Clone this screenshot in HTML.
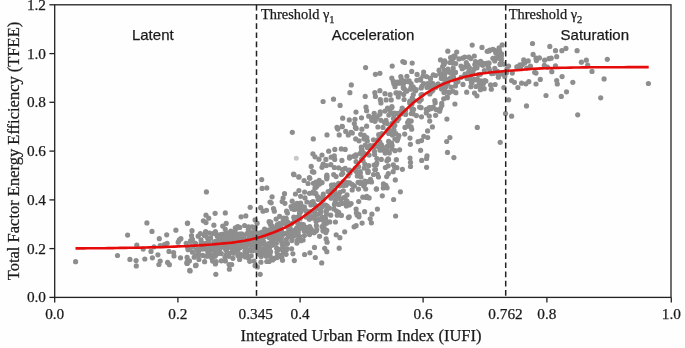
<!DOCTYPE html>
<html><head><meta charset="utf-8"><title>TFEE vs IUFI</title>
<style>
html,body{margin:0;padding:0;background:#fefefe;}
svg{display:block}
text{stroke:#1a1a1a;stroke-width:0.25px}
.tk{font:15.3px "Liberation Serif",serif;fill:#1a1a1a}
.ax{font:16.5px "Liberation Serif",serif;fill:#1a1a1a}
.th{font:14.4px "Liberation Serif",serif;fill:#1a1a1a}
.rg{font:15px "Liberation Sans",sans-serif;fill:#1a1a1a}
</style></head><body>
<svg width="685" height="348" viewBox="0 0 685 348">
<rect width="685" height="348" fill="#fefefe"/>
<g fill="#8e8e8e"><circle cx="198.3" cy="251.3" r="2.6"/><circle cx="201.0" cy="239.8" r="2.6"/><circle cx="192.4" cy="239.3" r="2.6"/><circle cx="187.1" cy="261.8" r="2.6"/><circle cx="201.3" cy="242.3" r="2.6"/><circle cx="192.5" cy="252.2" r="2.6"/><circle cx="191.6" cy="240.0" r="2.6"/><circle cx="196.1" cy="255.2" r="2.6"/><circle cx="204.9" cy="243.6" r="2.6"/><circle cx="198.2" cy="236.2" r="2.6"/><circle cx="190.9" cy="246.6" r="2.6"/><circle cx="198.0" cy="251.0" r="2.6"/><circle cx="187.6" cy="247.2" r="2.6"/><circle cx="195.4" cy="243.5" r="2.6"/><circle cx="198.3" cy="249.5" r="2.6"/><circle cx="195.9" cy="244.0" r="2.6"/><circle cx="190.5" cy="241.2" r="2.6"/><circle cx="190.6" cy="241.2" r="2.6"/><circle cx="187.1" cy="257.4" r="2.6"/><circle cx="189.8" cy="247.8" r="2.6"/><circle cx="202.8" cy="248.7" r="2.6"/><circle cx="202.2" cy="248.9" r="2.6"/><circle cx="200.4" cy="233.6" r="2.6"/><circle cx="196.7" cy="249.6" r="2.6"/><circle cx="202.7" cy="255.4" r="2.6"/><circle cx="188.1" cy="249.7" r="2.6"/><circle cx="192.8" cy="247.0" r="2.6"/><circle cx="201.7" cy="247.6" r="2.6"/><circle cx="204.6" cy="261.7" r="2.6"/><circle cx="197.9" cy="250.4" r="2.6"/><circle cx="199.2" cy="249.6" r="2.6"/><circle cx="194.9" cy="243.1" r="2.6"/><circle cx="194.2" cy="257.2" r="2.6"/><circle cx="204.4" cy="235.4" r="2.6"/><circle cx="199.1" cy="254.5" r="2.6"/><circle cx="202.7" cy="243.7" r="2.6"/><circle cx="189.4" cy="260.9" r="2.6"/><circle cx="204.0" cy="244.9" r="2.6"/><circle cx="214.7" cy="244.8" r="2.6"/><circle cx="208.3" cy="243.7" r="2.6"/><circle cx="214.4" cy="250.6" r="2.6"/><circle cx="220.0" cy="244.9" r="2.6"/><circle cx="214.7" cy="247.1" r="2.6"/><circle cx="212.0" cy="258.5" r="2.6"/><circle cx="205.6" cy="247.7" r="2.6"/><circle cx="213.0" cy="244.1" r="2.6"/><circle cx="210.5" cy="247.5" r="2.6"/><circle cx="205.4" cy="235.7" r="2.6"/><circle cx="205.5" cy="231.9" r="2.6"/><circle cx="221.4" cy="243.8" r="2.6"/><circle cx="212.3" cy="249.0" r="2.6"/><circle cx="219.8" cy="238.9" r="2.6"/><circle cx="215.0" cy="249.1" r="2.6"/><circle cx="211.0" cy="245.8" r="2.6"/><circle cx="218.0" cy="253.6" r="2.6"/><circle cx="207.6" cy="238.0" r="2.6"/><circle cx="205.1" cy="248.3" r="2.6"/><circle cx="218.8" cy="249.4" r="2.6"/><circle cx="212.1" cy="256.7" r="2.6"/><circle cx="205.2" cy="248.8" r="2.6"/><circle cx="218.5" cy="245.8" r="2.6"/><circle cx="217.3" cy="236.3" r="2.6"/><circle cx="208.4" cy="255.8" r="2.6"/><circle cx="210.9" cy="254.7" r="2.6"/><circle cx="214.7" cy="254.6" r="2.6"/><circle cx="209.6" cy="233.0" r="2.6"/><circle cx="212.6" cy="261.1" r="2.6"/><circle cx="213.8" cy="244.7" r="2.6"/><circle cx="220.2" cy="237.5" r="2.6"/><circle cx="214.9" cy="242.1" r="2.6"/><circle cx="219.9" cy="239.3" r="2.6"/><circle cx="220.7" cy="234.6" r="2.6"/><circle cx="212.3" cy="245.9" r="2.6"/><circle cx="221.2" cy="246.8" r="2.6"/><circle cx="218.7" cy="243.8" r="2.6"/><circle cx="217.2" cy="247.1" r="2.6"/><circle cx="210.7" cy="244.7" r="2.6"/><circle cx="208.4" cy="240.0" r="2.6"/><circle cx="208.6" cy="241.3" r="2.6"/><circle cx="219.3" cy="250.1" r="2.6"/><circle cx="213.1" cy="233.5" r="2.6"/><circle cx="216.2" cy="241.1" r="2.6"/><circle cx="221.3" cy="253.6" r="2.6"/><circle cx="215.7" cy="247.8" r="2.6"/><circle cx="208.1" cy="252.0" r="2.6"/><circle cx="212.0" cy="246.1" r="2.6"/><circle cx="218.9" cy="235.3" r="2.6"/><circle cx="206.9" cy="243.0" r="2.6"/><circle cx="218.6" cy="246.6" r="2.6"/><circle cx="213.9" cy="242.5" r="2.6"/><circle cx="205.8" cy="245.0" r="2.6"/><circle cx="205.3" cy="248.1" r="2.6"/><circle cx="209.2" cy="254.1" r="2.6"/><circle cx="214.6" cy="241.9" r="2.6"/><circle cx="215.0" cy="256.2" r="2.6"/><circle cx="216.5" cy="245.7" r="2.6"/><circle cx="210.3" cy="255.0" r="2.6"/><circle cx="214.2" cy="256.0" r="2.6"/><circle cx="216.2" cy="261.5" r="2.6"/><circle cx="208.3" cy="255.9" r="2.6"/><circle cx="205.7" cy="256.2" r="2.6"/><circle cx="221.3" cy="260.8" r="2.6"/><circle cx="205.9" cy="231.9" r="2.6"/><circle cx="210.4" cy="237.9" r="2.6"/><circle cx="215.7" cy="255.1" r="2.6"/><circle cx="210.3" cy="250.0" r="2.6"/><circle cx="207.2" cy="245.5" r="2.6"/><circle cx="220.0" cy="238.6" r="2.6"/><circle cx="214.8" cy="245.6" r="2.6"/><circle cx="215.4" cy="231.6" r="2.6"/><circle cx="216.2" cy="246.5" r="2.6"/><circle cx="219.0" cy="237.5" r="2.6"/><circle cx="210.6" cy="238.1" r="2.6"/><circle cx="219.7" cy="248.7" r="2.6"/><circle cx="207.7" cy="251.1" r="2.6"/><circle cx="216.1" cy="233.9" r="2.6"/><circle cx="255.1" cy="240.5" r="2.6"/><circle cx="230.8" cy="231.2" r="2.6"/><circle cx="245.0" cy="251.0" r="2.6"/><circle cx="235.3" cy="246.0" r="2.6"/><circle cx="245.2" cy="255.1" r="2.6"/><circle cx="235.2" cy="238.3" r="2.6"/><circle cx="229.5" cy="240.6" r="2.6"/><circle cx="224.9" cy="246.8" r="2.6"/><circle cx="242.3" cy="234.7" r="2.6"/><circle cx="224.7" cy="247.9" r="2.6"/><circle cx="226.6" cy="245.6" r="2.6"/><circle cx="226.6" cy="254.2" r="2.6"/><circle cx="253.7" cy="243.8" r="2.6"/><circle cx="232.7" cy="250.6" r="2.6"/><circle cx="243.7" cy="254.8" r="2.6"/><circle cx="237.2" cy="243.5" r="2.6"/><circle cx="235.1" cy="231.9" r="2.6"/><circle cx="225.4" cy="260.9" r="2.6"/><circle cx="249.2" cy="250.5" r="2.6"/><circle cx="245.6" cy="246.0" r="2.6"/><circle cx="240.2" cy="245.3" r="2.6"/><circle cx="228.7" cy="243.2" r="2.6"/><circle cx="240.8" cy="256.3" r="2.6"/><circle cx="253.4" cy="241.7" r="2.6"/><circle cx="228.4" cy="240.4" r="2.6"/><circle cx="244.6" cy="225.5" r="2.6"/><circle cx="256.9" cy="250.5" r="2.6"/><circle cx="251.5" cy="248.9" r="2.6"/><circle cx="235.8" cy="247.3" r="2.6"/><circle cx="228.5" cy="243.9" r="2.6"/><circle cx="248.5" cy="258.0" r="2.6"/><circle cx="237.6" cy="244.3" r="2.6"/><circle cx="236.7" cy="238.6" r="2.6"/><circle cx="251.6" cy="247.3" r="2.6"/><circle cx="235.6" cy="241.7" r="2.6"/><circle cx="247.3" cy="242.5" r="2.6"/><circle cx="251.1" cy="238.4" r="2.6"/><circle cx="235.6" cy="242.9" r="2.6"/><circle cx="248.6" cy="226.9" r="2.6"/><circle cx="227.2" cy="237.6" r="2.6"/><circle cx="250.9" cy="234.7" r="2.6"/><circle cx="226.3" cy="232.5" r="2.6"/><circle cx="256.6" cy="237.8" r="2.6"/><circle cx="242.1" cy="246.1" r="2.6"/><circle cx="248.3" cy="233.0" r="2.6"/><circle cx="254.0" cy="239.0" r="2.6"/><circle cx="224.4" cy="235.9" r="2.6"/><circle cx="223.1" cy="234.0" r="2.6"/><circle cx="232.9" cy="258.3" r="2.6"/><circle cx="237.9" cy="255.6" r="2.6"/><circle cx="256.8" cy="243.5" r="2.6"/><circle cx="254.1" cy="261.1" r="2.6"/><circle cx="235.8" cy="239.2" r="2.6"/><circle cx="226.4" cy="239.6" r="2.6"/><circle cx="239.6" cy="259.4" r="2.6"/><circle cx="228.2" cy="236.6" r="2.6"/><circle cx="238.9" cy="239.6" r="2.6"/><circle cx="245.4" cy="241.5" r="2.6"/><circle cx="240.4" cy="247.4" r="2.6"/><circle cx="240.1" cy="244.1" r="2.6"/><circle cx="240.8" cy="243.5" r="2.6"/><circle cx="249.7" cy="261.3" r="2.6"/><circle cx="228.3" cy="246.5" r="2.6"/><circle cx="226.0" cy="250.1" r="2.6"/><circle cx="255.0" cy="227.3" r="2.6"/><circle cx="255.9" cy="248.2" r="2.6"/><circle cx="239.7" cy="227.4" r="2.6"/><circle cx="254.0" cy="234.8" r="2.6"/><circle cx="233.0" cy="247.6" r="2.6"/><circle cx="230.3" cy="234.1" r="2.6"/><circle cx="252.8" cy="240.1" r="2.6"/><circle cx="251.0" cy="243.5" r="2.6"/><circle cx="246.8" cy="254.4" r="2.6"/><circle cx="245.9" cy="254.3" r="2.6"/><circle cx="232.6" cy="250.7" r="2.6"/><circle cx="248.5" cy="239.0" r="2.6"/><circle cx="254.2" cy="228.6" r="2.6"/><circle cx="233.5" cy="253.3" r="2.6"/><circle cx="227.4" cy="248.2" r="2.6"/><circle cx="225.2" cy="229.0" r="2.6"/><circle cx="242.1" cy="245.9" r="2.6"/><circle cx="231.9" cy="241.8" r="2.6"/><circle cx="246.6" cy="245.4" r="2.6"/><circle cx="255.3" cy="232.0" r="2.6"/><circle cx="236.5" cy="249.6" r="2.6"/><circle cx="251.2" cy="255.8" r="2.6"/><circle cx="245.4" cy="257.0" r="2.6"/><circle cx="241.3" cy="241.3" r="2.6"/><circle cx="224.3" cy="244.6" r="2.6"/><circle cx="255.5" cy="234.8" r="2.6"/><circle cx="236.3" cy="228.3" r="2.6"/><circle cx="240.3" cy="254.3" r="2.6"/><circle cx="225.0" cy="257.0" r="2.6"/><circle cx="241.5" cy="233.8" r="2.6"/><circle cx="223.4" cy="241.9" r="2.6"/><circle cx="244.1" cy="238.4" r="2.6"/><circle cx="224.6" cy="243.3" r="2.6"/><circle cx="229.8" cy="232.9" r="2.6"/><circle cx="252.8" cy="250.8" r="2.6"/><circle cx="237.9" cy="244.9" r="2.6"/><circle cx="246.8" cy="233.5" r="2.6"/><circle cx="250.2" cy="237.3" r="2.6"/><circle cx="243.7" cy="236.1" r="2.6"/><circle cx="245.7" cy="241.2" r="2.6"/><circle cx="236.2" cy="250.9" r="2.6"/><circle cx="235.9" cy="251.1" r="2.6"/><circle cx="235.3" cy="234.3" r="2.6"/><circle cx="248.4" cy="243.4" r="2.6"/><circle cx="233.8" cy="236.3" r="2.6"/><circle cx="235.3" cy="227.9" r="2.6"/><circle cx="249.5" cy="231.9" r="2.6"/><circle cx="247.0" cy="242.6" r="2.6"/><circle cx="252.1" cy="226.8" r="2.6"/><circle cx="241.5" cy="236.8" r="2.6"/><circle cx="245.7" cy="247.3" r="2.6"/><circle cx="236.7" cy="237.8" r="2.6"/><circle cx="232.2" cy="238.0" r="2.6"/><circle cx="237.1" cy="235.2" r="2.6"/><circle cx="237.7" cy="226.5" r="2.6"/><circle cx="242.3" cy="240.9" r="2.6"/><circle cx="253.1" cy="241.5" r="2.6"/><circle cx="231.3" cy="246.1" r="2.6"/><circle cx="239.3" cy="234.2" r="2.6"/><circle cx="224.6" cy="236.2" r="2.6"/><circle cx="228.9" cy="253.4" r="2.6"/><circle cx="251.0" cy="232.7" r="2.6"/><circle cx="238.6" cy="241.2" r="2.6"/><circle cx="238.0" cy="250.1" r="2.6"/><circle cx="229.0" cy="256.3" r="2.6"/><circle cx="246.7" cy="240.4" r="2.6"/><circle cx="224.0" cy="236.6" r="2.6"/><circle cx="250.6" cy="250.6" r="2.6"/><circle cx="224.2" cy="237.7" r="2.6"/><circle cx="230.6" cy="241.8" r="2.6"/><circle cx="235.2" cy="244.3" r="2.6"/><circle cx="231.0" cy="234.5" r="2.6"/><circle cx="240.4" cy="244.1" r="2.6"/><circle cx="229.1" cy="264.6" r="2.6"/><circle cx="232.1" cy="237.9" r="2.6"/><circle cx="231.0" cy="239.6" r="2.6"/><circle cx="236.8" cy="244.4" r="2.6"/><circle cx="246.8" cy="249.3" r="2.6"/><circle cx="226.8" cy="248.6" r="2.6"/><circle cx="248.9" cy="235.5" r="2.6"/><circle cx="254.3" cy="239.2" r="2.6"/><circle cx="243.7" cy="246.2" r="2.6"/><circle cx="248.3" cy="229.3" r="2.6"/><circle cx="231.0" cy="232.3" r="2.6"/><circle cx="239.1" cy="241.7" r="2.6"/><circle cx="237.4" cy="245.8" r="2.6"/><circle cx="226.8" cy="244.6" r="2.6"/><circle cx="228.1" cy="242.3" r="2.6"/><circle cx="255.7" cy="238.5" r="2.6"/><circle cx="228.4" cy="246.9" r="2.6"/><circle cx="238.6" cy="247.1" r="2.6"/><circle cx="276.7" cy="233.9" r="2.6"/><circle cx="291.1" cy="206.6" r="2.6"/><circle cx="274.5" cy="241.1" r="2.6"/><circle cx="263.9" cy="242.3" r="2.6"/><circle cx="285.7" cy="233.4" r="2.6"/><circle cx="282.8" cy="245.7" r="2.6"/><circle cx="298.0" cy="206.3" r="2.6"/><circle cx="270.6" cy="245.8" r="2.6"/><circle cx="299.6" cy="228.5" r="2.6"/><circle cx="286.2" cy="239.6" r="2.6"/><circle cx="283.1" cy="220.9" r="2.6"/><circle cx="257.8" cy="240.1" r="2.6"/><circle cx="275.1" cy="237.8" r="2.6"/><circle cx="271.5" cy="243.2" r="2.6"/><circle cx="264.9" cy="252.5" r="2.6"/><circle cx="296.9" cy="234.8" r="2.6"/><circle cx="286.3" cy="250.0" r="2.6"/><circle cx="257.1" cy="223.2" r="2.6"/><circle cx="263.1" cy="235.1" r="2.6"/><circle cx="266.1" cy="254.4" r="2.6"/><circle cx="268.5" cy="243.8" r="2.6"/><circle cx="292.0" cy="238.2" r="2.6"/><circle cx="280.7" cy="236.4" r="2.6"/><circle cx="268.8" cy="249.1" r="2.6"/><circle cx="270.5" cy="251.7" r="2.6"/><circle cx="294.1" cy="230.3" r="2.6"/><circle cx="284.3" cy="223.3" r="2.6"/><circle cx="288.2" cy="236.8" r="2.6"/><circle cx="258.1" cy="253.6" r="2.6"/><circle cx="265.8" cy="249.9" r="2.6"/><circle cx="277.2" cy="257.6" r="2.6"/><circle cx="269.4" cy="232.7" r="2.6"/><circle cx="266.4" cy="256.3" r="2.6"/><circle cx="259.7" cy="249.5" r="2.6"/><circle cx="288.8" cy="230.1" r="2.6"/><circle cx="281.6" cy="231.4" r="2.6"/><circle cx="262.4" cy="253.4" r="2.6"/><circle cx="291.6" cy="248.8" r="2.6"/><circle cx="294.2" cy="209.5" r="2.6"/><circle cx="279.4" cy="223.7" r="2.6"/><circle cx="260.1" cy="248.9" r="2.6"/><circle cx="277.2" cy="228.3" r="2.6"/><circle cx="270.8" cy="242.3" r="2.6"/><circle cx="263.6" cy="235.9" r="2.6"/><circle cx="298.0" cy="229.8" r="2.6"/><circle cx="270.9" cy="233.3" r="2.6"/><circle cx="282.3" cy="235.2" r="2.6"/><circle cx="265.5" cy="235.5" r="2.6"/><circle cx="264.1" cy="236.5" r="2.6"/><circle cx="280.4" cy="233.6" r="2.6"/><circle cx="273.0" cy="244.9" r="2.6"/><circle cx="281.0" cy="240.8" r="2.6"/><circle cx="296.7" cy="229.1" r="2.6"/><circle cx="296.1" cy="232.5" r="2.6"/><circle cx="265.3" cy="252.6" r="2.6"/><circle cx="260.0" cy="238.0" r="2.6"/><circle cx="279.5" cy="231.0" r="2.6"/><circle cx="272.2" cy="226.1" r="2.6"/><circle cx="262.0" cy="232.2" r="2.6"/><circle cx="290.6" cy="235.0" r="2.6"/><circle cx="276.6" cy="235.1" r="2.6"/><circle cx="264.1" cy="236.6" r="2.6"/><circle cx="259.3" cy="248.8" r="2.6"/><circle cx="277.0" cy="238.5" r="2.6"/><circle cx="269.1" cy="261.5" r="2.6"/><circle cx="289.5" cy="229.2" r="2.6"/><circle cx="289.5" cy="234.2" r="2.6"/><circle cx="296.5" cy="230.3" r="2.6"/><circle cx="263.0" cy="249.1" r="2.6"/><circle cx="297.2" cy="240.4" r="2.6"/><circle cx="277.4" cy="255.8" r="2.6"/><circle cx="286.9" cy="226.7" r="2.6"/><circle cx="261.4" cy="241.3" r="2.6"/><circle cx="297.3" cy="228.5" r="2.6"/><circle cx="283.3" cy="252.7" r="2.6"/><circle cx="276.7" cy="248.2" r="2.6"/><circle cx="286.2" cy="218.4" r="2.6"/><circle cx="274.7" cy="240.6" r="2.6"/><circle cx="299.7" cy="209.4" r="2.6"/><circle cx="297.5" cy="220.0" r="2.6"/><circle cx="297.4" cy="209.0" r="2.6"/><circle cx="276.3" cy="243.3" r="2.6"/><circle cx="263.0" cy="240.6" r="2.6"/><circle cx="281.3" cy="238.0" r="2.6"/><circle cx="266.9" cy="245.3" r="2.6"/><circle cx="270.1" cy="223.4" r="2.6"/><circle cx="270.9" cy="225.4" r="2.6"/><circle cx="261.6" cy="243.6" r="2.6"/><circle cx="269.7" cy="232.7" r="2.6"/><circle cx="274.4" cy="242.3" r="2.6"/><circle cx="272.0" cy="239.1" r="2.6"/><circle cx="287.4" cy="213.1" r="2.6"/><circle cx="265.7" cy="230.7" r="2.6"/><circle cx="299.6" cy="212.8" r="2.6"/><circle cx="297.9" cy="223.6" r="2.6"/><circle cx="282.9" cy="247.9" r="2.6"/><circle cx="271.1" cy="230.1" r="2.6"/><circle cx="280.7" cy="225.8" r="2.6"/><circle cx="271.3" cy="233.6" r="2.6"/><circle cx="296.9" cy="243.1" r="2.6"/><circle cx="287.5" cy="243.5" r="2.6"/><circle cx="295.6" cy="233.2" r="2.6"/><circle cx="270.7" cy="222.0" r="2.6"/><circle cx="258.1" cy="245.8" r="2.6"/><circle cx="261.3" cy="252.0" r="2.6"/><circle cx="271.4" cy="244.4" r="2.6"/><circle cx="286.1" cy="254.3" r="2.6"/><circle cx="261.3" cy="249.6" r="2.6"/><circle cx="297.9" cy="234.5" r="2.6"/><circle cx="279.3" cy="234.8" r="2.6"/><circle cx="259.9" cy="254.7" r="2.6"/><circle cx="291.9" cy="240.6" r="2.6"/><circle cx="264.6" cy="229.1" r="2.6"/><circle cx="299.0" cy="237.3" r="2.6"/><circle cx="278.7" cy="255.3" r="2.6"/><circle cx="265.6" cy="236.0" r="2.6"/><circle cx="294.4" cy="219.7" r="2.6"/><circle cx="269.1" cy="237.5" r="2.6"/><circle cx="261.2" cy="256.5" r="2.6"/><circle cx="259.3" cy="244.5" r="2.6"/><circle cx="275.7" cy="232.5" r="2.6"/><circle cx="262.4" cy="239.7" r="2.6"/><circle cx="292.9" cy="253.8" r="2.6"/><circle cx="281.8" cy="257.2" r="2.6"/><circle cx="257.6" cy="244.3" r="2.6"/><circle cx="277.3" cy="224.5" r="2.6"/><circle cx="259.4" cy="233.2" r="2.6"/><circle cx="259.4" cy="237.9" r="2.6"/><circle cx="280.2" cy="236.6" r="2.6"/><circle cx="269.7" cy="256.3" r="2.6"/><circle cx="296.0" cy="234.4" r="2.6"/><circle cx="277.0" cy="252.1" r="2.6"/><circle cx="269.4" cy="249.2" r="2.6"/><circle cx="282.9" cy="249.0" r="2.6"/><circle cx="291.7" cy="223.6" r="2.6"/><circle cx="272.1" cy="235.3" r="2.6"/><circle cx="283.8" cy="218.0" r="2.6"/><circle cx="299.2" cy="217.7" r="2.6"/><circle cx="264.7" cy="235.2" r="2.6"/><circle cx="294.4" cy="235.5" r="2.6"/><circle cx="265.6" cy="255.5" r="2.6"/><circle cx="262.4" cy="250.6" r="2.6"/><circle cx="296.7" cy="227.9" r="2.6"/><circle cx="268.3" cy="230.2" r="2.6"/><circle cx="282.1" cy="243.8" r="2.6"/><circle cx="265.8" cy="245.2" r="2.6"/><circle cx="274.2" cy="258.4" r="2.6"/><circle cx="287.9" cy="232.8" r="2.6"/><circle cx="273.9" cy="239.6" r="2.6"/><circle cx="285.9" cy="241.2" r="2.6"/><circle cx="299.6" cy="213.8" r="2.6"/><circle cx="298.2" cy="232.2" r="2.6"/><circle cx="266.2" cy="235.4" r="2.6"/><circle cx="282.5" cy="260.3" r="2.6"/><circle cx="291.9" cy="208.7" r="2.6"/><circle cx="262.9" cy="243.8" r="2.6"/><circle cx="275.4" cy="228.1" r="2.6"/><circle cx="279.0" cy="249.4" r="2.6"/><circle cx="290.0" cy="224.2" r="2.6"/><circle cx="299.7" cy="236.5" r="2.6"/><circle cx="274.8" cy="231.3" r="2.6"/><circle cx="284.5" cy="243.9" r="2.6"/><circle cx="294.5" cy="205.0" r="2.6"/><circle cx="269.2" cy="255.0" r="2.6"/><circle cx="286.9" cy="248.6" r="2.6"/><circle cx="297.8" cy="217.0" r="2.6"/><circle cx="283.0" cy="248.6" r="2.6"/><circle cx="280.6" cy="255.7" r="2.6"/><circle cx="270.1" cy="256.1" r="2.6"/><circle cx="297.3" cy="222.1" r="2.6"/><circle cx="257.3" cy="266.9" r="2.6"/><circle cx="262.1" cy="244.1" r="2.6"/><circle cx="269.6" cy="243.3" r="2.6"/><circle cx="295.5" cy="217.7" r="2.6"/><circle cx="276.3" cy="240.2" r="2.6"/><circle cx="269.8" cy="253.3" r="2.6"/><circle cx="293.8" cy="217.2" r="2.6"/><circle cx="290.1" cy="227.8" r="2.6"/><circle cx="290.8" cy="232.7" r="2.6"/><circle cx="287.8" cy="222.2" r="2.6"/><circle cx="316.2" cy="231.0" r="2.6"/><circle cx="346.6" cy="201.3" r="2.6"/><circle cx="318.1" cy="208.4" r="2.6"/><circle cx="325.6" cy="205.2" r="2.6"/><circle cx="314.5" cy="247.4" r="2.6"/><circle cx="344.0" cy="197.5" r="2.6"/><circle cx="322.0" cy="198.3" r="2.6"/><circle cx="329.4" cy="208.1" r="2.6"/><circle cx="330.7" cy="215.2" r="2.6"/><circle cx="323.5" cy="219.7" r="2.6"/><circle cx="348.2" cy="175.9" r="2.6"/><circle cx="314.9" cy="192.9" r="2.6"/><circle cx="304.4" cy="207.1" r="2.6"/><circle cx="348.3" cy="170.3" r="2.6"/><circle cx="306.4" cy="210.8" r="2.6"/><circle cx="320.4" cy="219.3" r="2.6"/><circle cx="340.0" cy="192.3" r="2.6"/><circle cx="324.6" cy="229.1" r="2.6"/><circle cx="325.5" cy="218.8" r="2.6"/><circle cx="313.1" cy="201.7" r="2.6"/><circle cx="346.4" cy="206.0" r="2.6"/><circle cx="304.2" cy="231.1" r="2.6"/><circle cx="344.7" cy="203.1" r="2.6"/><circle cx="300.0" cy="205.3" r="2.6"/><circle cx="338.2" cy="204.1" r="2.6"/><circle cx="345.9" cy="182.0" r="2.6"/><circle cx="343.1" cy="181.9" r="2.6"/><circle cx="305.0" cy="197.9" r="2.6"/><circle cx="319.2" cy="180.3" r="2.6"/><circle cx="326.1" cy="211.0" r="2.6"/><circle cx="350.0" cy="172.9" r="2.6"/><circle cx="316.4" cy="225.7" r="2.6"/><circle cx="309.3" cy="219.2" r="2.6"/><circle cx="329.9" cy="191.3" r="2.6"/><circle cx="304.6" cy="192.1" r="2.6"/><circle cx="336.8" cy="194.5" r="2.6"/><circle cx="302.3" cy="206.6" r="2.6"/><circle cx="306.2" cy="227.4" r="2.6"/><circle cx="347.0" cy="194.9" r="2.6"/><circle cx="327.3" cy="206.1" r="2.6"/><circle cx="336.8" cy="185.4" r="2.6"/><circle cx="335.4" cy="222.0" r="2.6"/><circle cx="338.7" cy="212.3" r="2.6"/><circle cx="326.1" cy="238.9" r="2.6"/><circle cx="334.4" cy="204.6" r="2.6"/><circle cx="323.3" cy="194.1" r="2.6"/><circle cx="314.1" cy="232.7" r="2.6"/><circle cx="322.0" cy="204.3" r="2.6"/><circle cx="342.4" cy="184.3" r="2.6"/><circle cx="345.1" cy="168.4" r="2.6"/><circle cx="322.2" cy="206.8" r="2.6"/><circle cx="306.9" cy="202.0" r="2.6"/><circle cx="339.8" cy="185.8" r="2.6"/><circle cx="335.4" cy="196.5" r="2.6"/><circle cx="334.1" cy="193.9" r="2.6"/><circle cx="339.5" cy="198.3" r="2.6"/><circle cx="316.1" cy="221.4" r="2.6"/><circle cx="333.1" cy="194.3" r="2.6"/><circle cx="322.3" cy="217.2" r="2.6"/><circle cx="323.2" cy="165.1" r="2.6"/><circle cx="304.4" cy="235.5" r="2.6"/><circle cx="346.1" cy="185.2" r="2.6"/><circle cx="338.6" cy="183.4" r="2.6"/><circle cx="319.0" cy="159.2" r="2.6"/><circle cx="326.5" cy="223.2" r="2.6"/><circle cx="333.9" cy="208.9" r="2.6"/><circle cx="317.3" cy="185.5" r="2.6"/><circle cx="328.1" cy="191.6" r="2.6"/><circle cx="319.3" cy="183.9" r="2.6"/><circle cx="344.7" cy="231.8" r="2.6"/><circle cx="331.0" cy="198.2" r="2.6"/><circle cx="306.1" cy="216.9" r="2.6"/><circle cx="315.9" cy="193.7" r="2.6"/><circle cx="349.3" cy="205.0" r="2.6"/><circle cx="307.0" cy="212.4" r="2.6"/><circle cx="314.4" cy="211.9" r="2.6"/><circle cx="306.7" cy="215.8" r="2.6"/><circle cx="349.6" cy="170.1" r="2.6"/><circle cx="349.2" cy="216.8" r="2.6"/><circle cx="311.1" cy="229.1" r="2.6"/><circle cx="315.1" cy="215.3" r="2.6"/><circle cx="334.8" cy="190.4" r="2.6"/><circle cx="311.7" cy="216.7" r="2.6"/><circle cx="323.2" cy="230.9" r="2.6"/><circle cx="337.3" cy="215.2" r="2.6"/><circle cx="323.1" cy="230.5" r="2.6"/><circle cx="340.9" cy="199.6" r="2.6"/><circle cx="309.4" cy="177.5" r="2.6"/><circle cx="341.5" cy="174.5" r="2.6"/><circle cx="325.9" cy="232.6" r="2.6"/><circle cx="307.8" cy="231.8" r="2.6"/><circle cx="334.1" cy="184.9" r="2.6"/><circle cx="310.9" cy="205.0" r="2.6"/><circle cx="319.6" cy="236.3" r="2.6"/><circle cx="343.3" cy="190.8" r="2.6"/><circle cx="322.1" cy="182.6" r="2.6"/><circle cx="309.7" cy="226.5" r="2.6"/><circle cx="349.4" cy="204.2" r="2.6"/><circle cx="347.0" cy="201.2" r="2.6"/><circle cx="342.7" cy="173.3" r="2.6"/><circle cx="309.9" cy="252.8" r="2.6"/><circle cx="317.5" cy="196.6" r="2.6"/><circle cx="326.8" cy="178.8" r="2.6"/><circle cx="307.3" cy="212.2" r="2.6"/><circle cx="302.0" cy="209.6" r="2.6"/><circle cx="309.5" cy="234.6" r="2.6"/><circle cx="323.1" cy="200.0" r="2.6"/><circle cx="312.8" cy="192.9" r="2.6"/><circle cx="326.8" cy="230.3" r="2.6"/><circle cx="349.5" cy="158.1" r="2.6"/><circle cx="324.7" cy="248.3" r="2.6"/><circle cx="309.8" cy="178.3" r="2.6"/><circle cx="334.9" cy="203.0" r="2.6"/><circle cx="322.0" cy="226.6" r="2.6"/><circle cx="338.6" cy="167.8" r="2.6"/><circle cx="324.0" cy="223.1" r="2.6"/><circle cx="336.2" cy="234.8" r="2.6"/><circle cx="315.4" cy="205.4" r="2.6"/><circle cx="349.7" cy="182.9" r="2.6"/><circle cx="314.9" cy="210.3" r="2.6"/><circle cx="329.7" cy="221.9" r="2.6"/><circle cx="331.7" cy="188.5" r="2.6"/><circle cx="300.1" cy="218.6" r="2.6"/><circle cx="331.2" cy="157.2" r="2.6"/><circle cx="318.3" cy="214.3" r="2.6"/><circle cx="303.3" cy="227.4" r="2.6"/><circle cx="334.4" cy="167.5" r="2.6"/><circle cx="348.3" cy="182.8" r="2.6"/><circle cx="326.7" cy="176.2" r="2.6"/><circle cx="309.5" cy="193.3" r="2.6"/><circle cx="316.1" cy="182.2" r="2.6"/><circle cx="301.1" cy="228.0" r="2.6"/><circle cx="326.7" cy="210.1" r="2.6"/><circle cx="327.1" cy="242.2" r="2.6"/><circle cx="316.1" cy="219.6" r="2.6"/><circle cx="314.9" cy="188.0" r="2.6"/><circle cx="339.9" cy="237.7" r="2.6"/><circle cx="323.1" cy="227.8" r="2.6"/><circle cx="316.8" cy="229.6" r="2.6"/><circle cx="307.1" cy="229.2" r="2.6"/><circle cx="323.2" cy="164.2" r="2.6"/><circle cx="348.4" cy="217.6" r="2.6"/><circle cx="313.5" cy="203.9" r="2.6"/><circle cx="313.8" cy="172.2" r="2.6"/><circle cx="316.2" cy="187.1" r="2.6"/><circle cx="311.5" cy="202.3" r="2.6"/><circle cx="331.5" cy="185.0" r="2.6"/><circle cx="343.8" cy="185.4" r="2.6"/><circle cx="308.1" cy="183.5" r="2.6"/><circle cx="303.1" cy="240.0" r="2.6"/><circle cx="314.4" cy="210.3" r="2.6"/><circle cx="318.8" cy="219.7" r="2.6"/><circle cx="309.9" cy="231.4" r="2.6"/><circle cx="322.9" cy="196.3" r="2.6"/><circle cx="342.5" cy="169.6" r="2.6"/><circle cx="336.1" cy="176.6" r="2.6"/><circle cx="312.7" cy="218.1" r="2.6"/><circle cx="301.0" cy="211.5" r="2.6"/><circle cx="338.8" cy="195.6" r="2.6"/><circle cx="341.9" cy="160.4" r="2.6"/><circle cx="313.4" cy="183.3" r="2.6"/><circle cx="326.9" cy="177.3" r="2.6"/><circle cx="326.6" cy="214.2" r="2.6"/><circle cx="335.4" cy="200.6" r="2.6"/><circle cx="303.4" cy="224.7" r="2.6"/><circle cx="313.6" cy="231.3" r="2.6"/><circle cx="325.9" cy="220.7" r="2.6"/><circle cx="318.2" cy="199.5" r="2.6"/><circle cx="301.9" cy="224.9" r="2.6"/><circle cx="300.6" cy="203.0" r="2.6"/><circle cx="326.9" cy="175.2" r="2.6"/><circle cx="345.0" cy="197.9" r="2.6"/><circle cx="320.9" cy="211.3" r="2.6"/><circle cx="339.1" cy="204.5" r="2.6"/><circle cx="300.9" cy="240.7" r="2.6"/><circle cx="319.3" cy="183.7" r="2.6"/><circle cx="301.2" cy="224.0" r="2.6"/><circle cx="349.6" cy="156.8" r="2.6"/><circle cx="320.8" cy="212.5" r="2.6"/><circle cx="342.0" cy="203.4" r="2.6"/><circle cx="308.1" cy="214.5" r="2.6"/><circle cx="336.6" cy="211.0" r="2.6"/><circle cx="304.6" cy="254.5" r="2.6"/><circle cx="324.0" cy="225.3" r="2.6"/><circle cx="324.9" cy="217.3" r="2.6"/><circle cx="320.3" cy="210.6" r="2.6"/><circle cx="313.2" cy="191.8" r="2.6"/><circle cx="310.3" cy="211.6" r="2.6"/><circle cx="312.0" cy="231.7" r="2.6"/><circle cx="333.7" cy="174.6" r="2.6"/><circle cx="371.5" cy="181.9" r="2.6"/><circle cx="361.9" cy="129.2" r="2.6"/><circle cx="360.2" cy="171.7" r="2.6"/><circle cx="363.9" cy="138.8" r="2.6"/><circle cx="379.8" cy="114.3" r="2.6"/><circle cx="355.2" cy="170.3" r="2.6"/><circle cx="397.2" cy="140.6" r="2.6"/><circle cx="361.7" cy="154.1" r="2.6"/><circle cx="353.2" cy="185.6" r="2.6"/><circle cx="360.2" cy="173.4" r="2.6"/><circle cx="395.0" cy="86.7" r="2.6"/><circle cx="392.1" cy="145.6" r="2.6"/><circle cx="392.4" cy="135.1" r="2.6"/><circle cx="395.0" cy="121.3" r="2.6"/><circle cx="354.3" cy="123.6" r="2.6"/><circle cx="361.6" cy="150.3" r="2.6"/><circle cx="396.0" cy="92.9" r="2.6"/><circle cx="352.2" cy="189.9" r="2.6"/><circle cx="360.9" cy="183.4" r="2.6"/><circle cx="364.8" cy="164.1" r="2.6"/><circle cx="396.4" cy="159.7" r="2.6"/><circle cx="379.6" cy="147.8" r="2.6"/><circle cx="365.3" cy="145.0" r="2.6"/><circle cx="364.6" cy="183.9" r="2.6"/><circle cx="394.4" cy="113.1" r="2.6"/><circle cx="374.5" cy="151.4" r="2.6"/><circle cx="398.3" cy="97.0" r="2.6"/><circle cx="397.3" cy="93.2" r="2.6"/><circle cx="355.7" cy="138.9" r="2.6"/><circle cx="391.9" cy="148.9" r="2.6"/><circle cx="398.9" cy="135.6" r="2.6"/><circle cx="360.7" cy="134.3" r="2.6"/><circle cx="386.0" cy="120.3" r="2.6"/><circle cx="397.1" cy="83.3" r="2.6"/><circle cx="391.6" cy="143.0" r="2.6"/><circle cx="366.6" cy="126.2" r="2.6"/><circle cx="367.9" cy="172.5" r="2.6"/><circle cx="373.4" cy="145.5" r="2.6"/><circle cx="387.5" cy="146.1" r="2.6"/><circle cx="380.3" cy="111.9" r="2.6"/><circle cx="399.6" cy="93.2" r="2.6"/><circle cx="397.2" cy="120.7" r="2.6"/><circle cx="391.0" cy="113.2" r="2.6"/><circle cx="376.9" cy="158.5" r="2.6"/><circle cx="384.7" cy="122.5" r="2.6"/><circle cx="389.3" cy="152.9" r="2.6"/><circle cx="370.5" cy="179.4" r="2.6"/><circle cx="361.6" cy="159.1" r="2.6"/><circle cx="388.3" cy="173.7" r="2.6"/><circle cx="364.2" cy="135.3" r="2.6"/><circle cx="373.5" cy="139.8" r="2.6"/><circle cx="377.9" cy="139.8" r="2.6"/><circle cx="376.0" cy="118.8" r="2.6"/><circle cx="398.1" cy="137.8" r="2.6"/><circle cx="381.5" cy="144.9" r="2.6"/><circle cx="387.1" cy="149.9" r="2.6"/><circle cx="380.1" cy="150.2" r="2.6"/><circle cx="377.7" cy="146.3" r="2.6"/><circle cx="386.9" cy="160.8" r="2.6"/><circle cx="388.5" cy="159.5" r="2.6"/><circle cx="364.8" cy="153.9" r="2.6"/><circle cx="364.6" cy="211.7" r="2.6"/><circle cx="363.5" cy="155.5" r="2.6"/><circle cx="365.2" cy="138.8" r="2.6"/><circle cx="394.0" cy="130.1" r="2.6"/><circle cx="387.3" cy="130.9" r="2.6"/><circle cx="388.8" cy="115.1" r="2.6"/><circle cx="395.8" cy="120.5" r="2.6"/><circle cx="388.2" cy="165.8" r="2.6"/><circle cx="357.3" cy="175.9" r="2.6"/><circle cx="363.0" cy="160.6" r="2.6"/><circle cx="393.5" cy="118.5" r="2.6"/><circle cx="358.8" cy="214.3" r="2.6"/><circle cx="358.1" cy="182.3" r="2.6"/><circle cx="373.5" cy="174.5" r="2.6"/><circle cx="398.8" cy="118.5" r="2.6"/><circle cx="394.9" cy="139.0" r="2.6"/><circle cx="364.2" cy="168.1" r="2.6"/><circle cx="379.9" cy="142.2" r="2.6"/><circle cx="365.6" cy="182.0" r="2.6"/><circle cx="361.9" cy="149.6" r="2.6"/><circle cx="397.3" cy="113.4" r="2.6"/><circle cx="378.7" cy="134.7" r="2.6"/><circle cx="369.2" cy="147.4" r="2.6"/><circle cx="356.1" cy="209.0" r="2.6"/><circle cx="374.6" cy="154.5" r="2.6"/><circle cx="378.2" cy="139.9" r="2.6"/><circle cx="381.3" cy="159.4" r="2.6"/><circle cx="360.0" cy="182.9" r="2.6"/><circle cx="389.9" cy="110.6" r="2.6"/><circle cx="369.1" cy="197.9" r="2.6"/><circle cx="377.4" cy="174.3" r="2.6"/><circle cx="383.7" cy="150.2" r="2.6"/><circle cx="367.8" cy="170.6" r="2.6"/><circle cx="374.0" cy="147.0" r="2.6"/><circle cx="356.1" cy="161.7" r="2.6"/><circle cx="375.5" cy="169.5" r="2.6"/><circle cx="370.1" cy="145.5" r="2.6"/><circle cx="391.9" cy="106.7" r="2.6"/><circle cx="368.0" cy="181.7" r="2.6"/><circle cx="366.2" cy="197.4" r="2.6"/><circle cx="389.3" cy="145.5" r="2.6"/><circle cx="353.5" cy="156.3" r="2.6"/><circle cx="365.7" cy="189.0" r="2.6"/><circle cx="371.3" cy="117.8" r="2.6"/><circle cx="354.4" cy="186.1" r="2.6"/><circle cx="375.0" cy="121.3" r="2.6"/><circle cx="380.3" cy="99.7" r="2.6"/><circle cx="355.8" cy="156.3" r="2.6"/><circle cx="355.7" cy="154.9" r="2.6"/><circle cx="387.1" cy="123.6" r="2.6"/><circle cx="376.1" cy="165.0" r="2.6"/><circle cx="352.0" cy="184.3" r="2.6"/><circle cx="367.3" cy="147.6" r="2.6"/><circle cx="382.6" cy="147.0" r="2.6"/><circle cx="393.8" cy="83.8" r="2.6"/><circle cx="351.1" cy="203.6" r="2.6"/><circle cx="352.3" cy="133.0" r="2.6"/><circle cx="356.3" cy="171.4" r="2.6"/><circle cx="366.8" cy="137.7" r="2.6"/><circle cx="381.8" cy="133.7" r="2.6"/><circle cx="356.1" cy="225.7" r="2.6"/><circle cx="391.8" cy="107.6" r="2.6"/><circle cx="376.5" cy="188.9" r="2.6"/><circle cx="374.8" cy="169.5" r="2.6"/><circle cx="360.8" cy="182.7" r="2.6"/><circle cx="359.0" cy="140.8" r="2.6"/><circle cx="387.5" cy="108.2" r="2.6"/><circle cx="393.1" cy="130.4" r="2.6"/><circle cx="368.7" cy="165.7" r="2.6"/><circle cx="374.2" cy="113.3" r="2.6"/><circle cx="384.8" cy="122.6" r="2.6"/><circle cx="363.0" cy="152.6" r="2.6"/><circle cx="385.9" cy="185.3" r="2.6"/><circle cx="392.0" cy="123.4" r="2.6"/><circle cx="394.8" cy="125.6" r="2.6"/><circle cx="377.2" cy="116.9" r="2.6"/><circle cx="357.1" cy="215.1" r="2.6"/><circle cx="388.1" cy="158.9" r="2.6"/><circle cx="367.3" cy="140.9" r="2.6"/><circle cx="368.1" cy="171.7" r="2.6"/><circle cx="388.7" cy="133.5" r="2.6"/><circle cx="396.9" cy="167.7" r="2.6"/><circle cx="395.9" cy="133.5" r="2.6"/><circle cx="385.2" cy="153.1" r="2.6"/><circle cx="376.8" cy="163.1" r="2.6"/><circle cx="393.3" cy="125.7" r="2.6"/><circle cx="388.6" cy="141.4" r="2.6"/><circle cx="359.9" cy="153.6" r="2.6"/><circle cx="362.1" cy="223.1" r="2.6"/><circle cx="388.7" cy="129.3" r="2.6"/><circle cx="380.1" cy="145.5" r="2.6"/><circle cx="395.3" cy="179.9" r="2.6"/><circle cx="358.5" cy="166.7" r="2.6"/><circle cx="358.5" cy="189.1" r="2.6"/><circle cx="393.9" cy="115.5" r="2.6"/><circle cx="395.0" cy="150.7" r="2.6"/><circle cx="361.3" cy="147.2" r="2.6"/><circle cx="374.1" cy="165.0" r="2.6"/><circle cx="364.8" cy="181.0" r="2.6"/><circle cx="397.7" cy="138.7" r="2.6"/><circle cx="389.4" cy="131.9" r="2.6"/><circle cx="361.0" cy="177.0" r="2.6"/><circle cx="386.7" cy="176.6" r="2.6"/><circle cx="393.3" cy="164.8" r="2.6"/><circle cx="363.7" cy="186.1" r="2.6"/><circle cx="394.7" cy="167.2" r="2.6"/><circle cx="355.3" cy="168.0" r="2.6"/><circle cx="359.5" cy="175.3" r="2.6"/><circle cx="369.1" cy="155.1" r="2.6"/><circle cx="404.1" cy="99.5" r="2.6"/><circle cx="435.2" cy="102.8" r="2.6"/><circle cx="433.2" cy="107.0" r="2.6"/><circle cx="404.2" cy="81.2" r="2.6"/><circle cx="413.1" cy="86.9" r="2.6"/><circle cx="404.5" cy="62.4" r="2.6"/><circle cx="440.4" cy="108.6" r="2.6"/><circle cx="405.0" cy="89.5" r="2.6"/><circle cx="411.7" cy="71.4" r="2.6"/><circle cx="416.8" cy="80.3" r="2.6"/><circle cx="447.1" cy="96.8" r="2.6"/><circle cx="403.1" cy="83.3" r="2.6"/><circle cx="421.2" cy="88.0" r="2.6"/><circle cx="411.2" cy="121.1" r="2.6"/><circle cx="411.1" cy="87.0" r="2.6"/><circle cx="411.8" cy="108.8" r="2.6"/><circle cx="432.5" cy="86.1" r="2.6"/><circle cx="413.2" cy="88.8" r="2.6"/><circle cx="408.5" cy="123.5" r="2.6"/><circle cx="431.3" cy="91.7" r="2.6"/><circle cx="438.1" cy="84.2" r="2.6"/><circle cx="449.1" cy="92.8" r="2.6"/><circle cx="441.3" cy="78.6" r="2.6"/><circle cx="432.6" cy="83.3" r="2.6"/><circle cx="403.3" cy="87.2" r="2.6"/><circle cx="417.1" cy="74.4" r="2.6"/><circle cx="441.8" cy="105.6" r="2.6"/><circle cx="432.9" cy="90.3" r="2.6"/><circle cx="402.2" cy="108.1" r="2.6"/><circle cx="412.6" cy="111.3" r="2.6"/><circle cx="411.2" cy="113.5" r="2.6"/><circle cx="438.1" cy="84.0" r="2.6"/><circle cx="413.5" cy="100.2" r="2.6"/><circle cx="403.5" cy="88.3" r="2.6"/><circle cx="436.0" cy="87.3" r="2.6"/><circle cx="401.0" cy="113.9" r="2.6"/><circle cx="444.6" cy="74.5" r="2.6"/><circle cx="409.7" cy="102.9" r="2.6"/><circle cx="449.3" cy="79.4" r="2.6"/><circle cx="446.7" cy="84.0" r="2.6"/><circle cx="419.5" cy="101.2" r="2.6"/><circle cx="413.9" cy="88.7" r="2.6"/><circle cx="434.8" cy="100.6" r="2.6"/><circle cx="411.9" cy="104.2" r="2.6"/><circle cx="423.6" cy="72.1" r="2.6"/><circle cx="447.9" cy="80.9" r="2.6"/><circle cx="443.5" cy="84.2" r="2.6"/><circle cx="419.6" cy="107.0" r="2.6"/><circle cx="443.5" cy="63.5" r="2.6"/><circle cx="443.7" cy="98.8" r="2.6"/><circle cx="428.3" cy="109.7" r="2.6"/><circle cx="413.3" cy="94.6" r="2.6"/><circle cx="405.0" cy="127.4" r="2.6"/><circle cx="422.2" cy="94.7" r="2.6"/><circle cx="420.5" cy="79.1" r="2.6"/><circle cx="444.6" cy="60.9" r="2.6"/><circle cx="441.7" cy="103.4" r="2.6"/><circle cx="408.0" cy="126.2" r="2.6"/><circle cx="439.9" cy="73.4" r="2.6"/><circle cx="441.6" cy="88.9" r="2.6"/><circle cx="442.6" cy="66.6" r="2.6"/><circle cx="444.1" cy="76.1" r="2.6"/><circle cx="426.4" cy="109.3" r="2.6"/><circle cx="444.5" cy="70.3" r="2.6"/><circle cx="445.8" cy="86.7" r="2.6"/><circle cx="439.1" cy="70.2" r="2.6"/><circle cx="430.3" cy="78.2" r="2.6"/><circle cx="433.3" cy="74.8" r="2.6"/><circle cx="444.0" cy="92.5" r="2.6"/><circle cx="446.1" cy="79.7" r="2.6"/><circle cx="421.0" cy="94.8" r="2.6"/><circle cx="411.1" cy="83.5" r="2.6"/><circle cx="401.6" cy="110.8" r="2.6"/><circle cx="431.7" cy="86.5" r="2.6"/><circle cx="430.7" cy="85.7" r="2.6"/><circle cx="442.2" cy="88.3" r="2.6"/><circle cx="400.5" cy="112.7" r="2.6"/><circle cx="430.4" cy="83.6" r="2.6"/><circle cx="445.2" cy="62.2" r="2.6"/><circle cx="433.5" cy="84.5" r="2.6"/><circle cx="413.1" cy="113.8" r="2.6"/><circle cx="421.2" cy="99.4" r="2.6"/><circle cx="405.6" cy="114.4" r="2.6"/><circle cx="431.4" cy="107.8" r="2.6"/><circle cx="444.6" cy="79.6" r="2.6"/><circle cx="421.5" cy="116.8" r="2.6"/><circle cx="427.0" cy="87.4" r="2.6"/><circle cx="409.8" cy="101.0" r="2.6"/><circle cx="403.7" cy="94.4" r="2.6"/><circle cx="429.3" cy="107.7" r="2.6"/><circle cx="444.2" cy="90.0" r="2.6"/><circle cx="447.8" cy="51.2" r="2.6"/><circle cx="410.0" cy="138.1" r="2.6"/><circle cx="443.0" cy="74.4" r="2.6"/><circle cx="408.8" cy="120.6" r="2.6"/><circle cx="449.9" cy="62.5" r="2.6"/><circle cx="430.5" cy="79.1" r="2.6"/><circle cx="423.0" cy="76.0" r="2.6"/><circle cx="440.5" cy="59.9" r="2.6"/><circle cx="443.0" cy="74.4" r="2.6"/><circle cx="445.0" cy="78.1" r="2.6"/><circle cx="413.6" cy="109.3" r="2.6"/><circle cx="421.1" cy="107.7" r="2.6"/><circle cx="404.7" cy="134.1" r="2.6"/><circle cx="416.2" cy="89.6" r="2.6"/><circle cx="431.3" cy="108.6" r="2.6"/><circle cx="447.7" cy="71.8" r="2.6"/><circle cx="447.5" cy="83.3" r="2.6"/><circle cx="409.2" cy="80.9" r="2.6"/><circle cx="420.6" cy="80.1" r="2.6"/><circle cx="411.0" cy="126.8" r="2.6"/><circle cx="411.7" cy="129.2" r="2.6"/><circle cx="444.3" cy="89.9" r="2.6"/><circle cx="407.6" cy="81.6" r="2.6"/><circle cx="430.7" cy="87.2" r="2.6"/><circle cx="412.3" cy="97.8" r="2.6"/><circle cx="447.3" cy="97.7" r="2.6"/><circle cx="400.1" cy="83.2" r="2.6"/><circle cx="422.0" cy="86.0" r="2.6"/><circle cx="423.7" cy="83.6" r="2.6"/><circle cx="448.1" cy="69.0" r="2.6"/><circle cx="423.8" cy="136.3" r="2.6"/><circle cx="418.5" cy="100.6" r="2.6"/><circle cx="416.4" cy="115.6" r="2.6"/><circle cx="444.1" cy="64.4" r="2.6"/><circle cx="429.8" cy="94.0" r="2.6"/><circle cx="407.6" cy="122.6" r="2.6"/><circle cx="400.8" cy="76.6" r="2.6"/><circle cx="406.7" cy="91.2" r="2.6"/><circle cx="440.8" cy="74.7" r="2.6"/><circle cx="426.3" cy="112.9" r="2.6"/><circle cx="448.4" cy="92.1" r="2.6"/><circle cx="429.3" cy="116.0" r="2.6"/><circle cx="403.5" cy="83.6" r="2.6"/><circle cx="415.5" cy="90.7" r="2.6"/><circle cx="405.6" cy="110.6" r="2.6"/><circle cx="435.5" cy="75.5" r="2.6"/><circle cx="427.6" cy="83.6" r="2.6"/><circle cx="410.6" cy="89.2" r="2.6"/><circle cx="426.5" cy="76.6" r="2.6"/><circle cx="495.9" cy="71.6" r="2.6"/><circle cx="465.0" cy="74.5" r="2.6"/><circle cx="474.2" cy="79.4" r="2.6"/><circle cx="503.9" cy="64.2" r="2.6"/><circle cx="480.3" cy="74.3" r="2.6"/><circle cx="455.0" cy="56.1" r="2.6"/><circle cx="453.2" cy="68.0" r="2.6"/><circle cx="501.5" cy="73.9" r="2.6"/><circle cx="495.9" cy="53.1" r="2.6"/><circle cx="465.2" cy="66.8" r="2.6"/><circle cx="458.9" cy="58.9" r="2.6"/><circle cx="455.4" cy="72.4" r="2.6"/><circle cx="501.3" cy="59.9" r="2.6"/><circle cx="466.7" cy="92.2" r="2.6"/><circle cx="451.0" cy="87.1" r="2.6"/><circle cx="463.0" cy="84.4" r="2.6"/><circle cx="484.6" cy="80.6" r="2.6"/><circle cx="475.5" cy="61.5" r="2.6"/><circle cx="496.2" cy="52.4" r="2.6"/><circle cx="476.9" cy="95.8" r="2.6"/><circle cx="489.9" cy="50.1" r="2.6"/><circle cx="498.0" cy="74.3" r="2.6"/><circle cx="501.6" cy="53.8" r="2.6"/><circle cx="491.6" cy="73.6" r="2.6"/><circle cx="497.5" cy="71.3" r="2.6"/><circle cx="453.7" cy="57.8" r="2.6"/><circle cx="494.8" cy="60.9" r="2.6"/><circle cx="484.2" cy="88.7" r="2.6"/><circle cx="495.1" cy="84.5" r="2.6"/><circle cx="492.9" cy="58.3" r="2.6"/><circle cx="482.3" cy="64.3" r="2.6"/><circle cx="478.3" cy="74.5" r="2.6"/><circle cx="464.8" cy="57.0" r="2.6"/><circle cx="455.7" cy="63.6" r="2.6"/><circle cx="489.2" cy="50.9" r="2.6"/><circle cx="468.7" cy="71.7" r="2.6"/><circle cx="486.3" cy="63.3" r="2.6"/><circle cx="474.5" cy="93.1" r="2.6"/><circle cx="479.2" cy="83.9" r="2.6"/><circle cx="484.3" cy="70.6" r="2.6"/><circle cx="458.0" cy="81.5" r="2.6"/><circle cx="470.9" cy="86.7" r="2.6"/><circle cx="480.9" cy="80.8" r="2.6"/><circle cx="487.2" cy="51.3" r="2.6"/><circle cx="503.9" cy="87.6" r="2.6"/><circle cx="474.8" cy="64.6" r="2.6"/><circle cx="483.4" cy="83.6" r="2.6"/><circle cx="472.0" cy="82.8" r="2.6"/><circle cx="462.7" cy="58.2" r="2.6"/><circle cx="470.9" cy="58.6" r="2.6"/><circle cx="452.8" cy="91.2" r="2.6"/><circle cx="461.0" cy="66.1" r="2.6"/><circle cx="464.8" cy="67.1" r="2.6"/><circle cx="452.2" cy="61.3" r="2.6"/><circle cx="498.3" cy="77.2" r="2.6"/><circle cx="488.2" cy="63.1" r="2.6"/><circle cx="497.5" cy="57.3" r="2.6"/><circle cx="500.4" cy="55.8" r="2.6"/><circle cx="454.1" cy="79.8" r="2.6"/><circle cx="499.3" cy="56.2" r="2.6"/><circle cx="452.8" cy="73.1" r="2.6"/><circle cx="504.8" cy="76.6" r="2.6"/><circle cx="470.1" cy="79.0" r="2.6"/><circle cx="494.9" cy="58.0" r="2.6"/><circle cx="489.1" cy="63.1" r="2.6"/><circle cx="472.9" cy="71.9" r="2.6"/><circle cx="474.1" cy="69.0" r="2.6"/><circle cx="477.5" cy="79.0" r="2.6"/><circle cx="499.6" cy="51.0" r="2.6"/><circle cx="482.0" cy="47.4" r="2.6"/><circle cx="453.6" cy="77.1" r="2.6"/><circle cx="480.4" cy="89.7" r="2.6"/><circle cx="452.3" cy="63.1" r="2.6"/><circle cx="480.6" cy="61.4" r="2.6"/><circle cx="450.4" cy="78.0" r="2.6"/><circle cx="466.3" cy="62.7" r="2.6"/><circle cx="452.4" cy="77.6" r="2.6"/><circle cx="455.4" cy="86.0" r="2.6"/><circle cx="490.6" cy="84.9" r="2.6"/><circle cx="461.1" cy="77.3" r="2.6"/><circle cx="453.7" cy="56.2" r="2.6"/><circle cx="494.8" cy="50.3" r="2.6"/><circle cx="499.1" cy="47.9" r="2.6"/><circle cx="456.7" cy="52.0" r="2.6"/><circle cx="498.8" cy="58.2" r="2.6"/><circle cx="485.9" cy="81.0" r="2.6"/><circle cx="500.3" cy="63.9" r="2.6"/><circle cx="468.0" cy="65.4" r="2.6"/><circle cx="456.1" cy="83.1" r="2.6"/><circle cx="488.8" cy="68.2" r="2.6"/><circle cx="450.6" cy="72.9" r="2.6"/><circle cx="474.3" cy="56.0" r="2.6"/><circle cx="494.8" cy="68.4" r="2.6"/><circle cx="500.9" cy="59.2" r="2.6"/><circle cx="472.2" cy="45.1" r="2.6"/><circle cx="482.7" cy="63.2" r="2.6"/><circle cx="482.8" cy="65.3" r="2.6"/><circle cx="470.8" cy="75.3" r="2.6"/><circle cx="489.9" cy="70.9" r="2.6"/><circle cx="498.3" cy="72.8" r="2.6"/><circle cx="471.4" cy="82.5" r="2.6"/><circle cx="475.9" cy="86.5" r="2.6"/><circle cx="465.2" cy="74.1" r="2.6"/><circle cx="454.9" cy="104.0" r="2.6"/><circle cx="493.1" cy="73.5" r="2.6"/><circle cx="492.9" cy="49.4" r="2.6"/><circle cx="452.3" cy="71.5" r="2.6"/><circle cx="479.0" cy="62.9" r="2.6"/><circle cx="480.0" cy="64.2" r="2.6"/><circle cx="450.6" cy="57.6" r="2.6"/><circle cx="502.2" cy="44.9" r="2.6"/><circle cx="472.0" cy="73.8" r="2.6"/><circle cx="468.9" cy="57.2" r="2.6"/><circle cx="488.0" cy="66.5" r="2.6"/><circle cx="500.1" cy="64.5" r="2.6"/><circle cx="476.4" cy="79.9" r="2.6"/><circle cx="455.9" cy="92.7" r="2.6"/><circle cx="477.0" cy="67.8" r="2.6"/><circle cx="480.7" cy="86.9" r="2.6"/><circle cx="469.4" cy="67.9" r="2.6"/><circle cx="491.3" cy="89.2" r="2.6"/><circle cx="462.2" cy="68.7" r="2.6"/><circle cx="467.0" cy="78.4" r="2.6"/><circle cx="501.3" cy="56.6" r="2.6"/><circle cx="455.4" cy="72.3" r="2.6"/><circle cx="534.7" cy="72.3" r="2.6"/><circle cx="523.7" cy="59.9" r="2.6"/><circle cx="524.8" cy="62.7" r="2.6"/><circle cx="518.2" cy="66.6" r="2.6"/><circle cx="530.5" cy="66.2" r="2.6"/><circle cx="516.8" cy="66.9" r="2.6"/><circle cx="520.6" cy="66.8" r="2.6"/><circle cx="528.2" cy="60.9" r="2.6"/><circle cx="520.0" cy="64.8" r="2.6"/><circle cx="547.4" cy="67.1" r="2.6"/><circle cx="526.7" cy="68.0" r="2.6"/><circle cx="506.5" cy="72.8" r="2.6"/><circle cx="544.3" cy="65.4" r="2.6"/><circle cx="512.3" cy="73.1" r="2.6"/><circle cx="536.4" cy="60.6" r="2.6"/><circle cx="507.0" cy="68.9" r="2.6"/><circle cx="522.5" cy="64.6" r="2.6"/><circle cx="508.6" cy="66.1" r="2.6"/><circle cx="385.4" cy="167.5" r="2.6"/><circle cx="377.4" cy="209.1" r="2.6"/><circle cx="383.8" cy="187.5" r="2.6"/><circle cx="435.6" cy="115.3" r="2.6"/><circle cx="420.6" cy="150.3" r="2.6"/><circle cx="439.6" cy="111.2" r="2.6"/><circle cx="366.7" cy="196.3" r="2.6"/><circle cx="371.9" cy="214.2" r="2.6"/><circle cx="432.4" cy="126.9" r="2.6"/><circle cx="421.5" cy="140.6" r="2.6"/><circle cx="358.7" cy="201.5" r="2.6"/><circle cx="383.4" cy="183.9" r="2.6"/><circle cx="341.4" cy="215.4" r="2.6"/><circle cx="356.4" cy="212.8" r="2.6"/><circle cx="446.9" cy="119.1" r="2.6"/><circle cx="378.5" cy="177.0" r="2.6"/><circle cx="427.7" cy="137.5" r="2.6"/><circle cx="410.0" cy="158.1" r="2.6"/><circle cx="362.8" cy="197.2" r="2.6"/><circle cx="427.0" cy="155.8" r="2.6"/><circle cx="427.6" cy="130.9" r="2.6"/><circle cx="410.4" cy="144.3" r="2.6"/><circle cx="436.1" cy="109.6" r="2.6"/><circle cx="429.7" cy="121.1" r="2.6"/><circle cx="383.3" cy="188.0" r="2.6"/><circle cx="418.1" cy="141.7" r="2.6"/><circle cx="399.6" cy="149.8" r="2.6"/><circle cx="376.3" cy="189.0" r="2.6"/><circle cx="75.6" cy="261.7" r="2.6"/><circle cx="117.5" cy="255.5" r="2.6"/><circle cx="127.6" cy="235.1" r="2.6"/><circle cx="129.9" cy="259.4" r="2.6"/><circle cx="136.1" cy="260.6" r="2.6"/><circle cx="136.3" cy="265.9" r="2.6"/><circle cx="136.8" cy="245.2" r="2.6"/><circle cx="144.8" cy="259.0" r="2.6"/><circle cx="143.2" cy="249.1" r="2.6"/><circle cx="146.9" cy="222.9" r="2.6"/><circle cx="152.0" cy="231.4" r="2.6"/><circle cx="151.0" cy="251.4" r="2.6"/><circle cx="152.4" cy="257.8" r="2.6"/><circle cx="154.0" cy="246.8" r="2.6"/><circle cx="157.9" cy="254.8" r="2.6"/><circle cx="159.3" cy="238.7" r="2.6"/><circle cx="160.2" cy="261.0" r="2.6"/><circle cx="158.9" cy="264.5" r="2.6"/><circle cx="160.2" cy="245.6" r="2.6"/><circle cx="164.4" cy="244.5" r="2.6"/><circle cx="166.7" cy="234.8" r="2.6"/><circle cx="167.1" cy="243.3" r="2.6"/><circle cx="167.6" cy="262.4" r="2.6"/><circle cx="169.4" cy="264.7" r="2.6"/><circle cx="169.0" cy="251.4" r="2.6"/><circle cx="173.6" cy="252.5" r="2.6"/><circle cx="174.0" cy="256.0" r="2.6"/><circle cx="175.9" cy="230.2" r="2.6"/><circle cx="179.3" cy="239.9" r="2.6"/><circle cx="180.9" cy="238.7" r="2.6"/><circle cx="178.2" cy="242.2" r="2.6"/><circle cx="180.5" cy="257.8" r="2.6"/><circle cx="187.4" cy="223.3" r="2.6"/><circle cx="186.9" cy="263.3" r="2.6"/><circle cx="190.1" cy="270.9" r="2.6"/><circle cx="192.0" cy="230.7" r="2.6"/><circle cx="191.5" cy="235.7" r="2.6"/><circle cx="186.2" cy="243.3" r="2.6"/><circle cx="196.1" cy="265.2" r="2.6"/><circle cx="198.9" cy="259.4" r="2.6"/><circle cx="206.4" cy="191.9" r="2.6"/><circle cx="206.0" cy="215.2" r="2.6"/><circle cx="215.1" cy="213.3" r="2.6"/><circle cx="225.3" cy="212.9" r="2.6"/><circle cx="208.7" cy="218.2" r="2.6"/><circle cx="203.4" cy="220.8" r="2.6"/><circle cx="206.0" cy="222.6" r="2.6"/><circle cx="187.6" cy="223.1" r="2.6"/><circle cx="213.9" cy="225.2" r="2.6"/><circle cx="226.2" cy="223.4" r="2.6"/><circle cx="222.7" cy="226.1" r="2.6"/><circle cx="241.1" cy="216.8" r="2.6"/><circle cx="245.8" cy="215.9" r="2.6"/><circle cx="250.2" cy="207.3" r="2.6"/><circle cx="255.1" cy="219.9" r="2.6"/><circle cx="261.7" cy="179.6" r="2.6"/><circle cx="262.1" cy="188.4" r="2.6"/><circle cx="266.8" cy="187.9" r="2.6"/><circle cx="260.7" cy="207.7" r="2.6"/><circle cx="263.0" cy="211.2" r="2.6"/><circle cx="266.5" cy="210.3" r="2.6"/><circle cx="272.1" cy="196.8" r="2.6"/><circle cx="270.0" cy="202.1" r="2.6"/><circle cx="271.2" cy="202.8" r="2.6"/><circle cx="273.5" cy="208.5" r="2.6"/><circle cx="274.3" cy="211.2" r="2.6"/><circle cx="294.0" cy="174.7" r="2.6"/><circle cx="298.9" cy="177.0" r="2.6"/><circle cx="304.1" cy="180.5" r="2.6"/><circle cx="298.9" cy="190.5" r="2.6"/><circle cx="295.4" cy="194.0" r="2.6"/><circle cx="284.5" cy="193.7" r="2.6"/><circle cx="283.1" cy="198.0" r="2.6"/><circle cx="282.2" cy="201.5" r="2.6"/><circle cx="284.9" cy="203.3" r="2.6"/><circle cx="292.2" cy="201.2" r="2.6"/><circle cx="300.6" cy="196.3" r="2.6"/><circle cx="297.1" cy="203.3" r="2.6"/><circle cx="279.6" cy="216.4" r="2.6"/><circle cx="276.1" cy="219.1" r="2.6"/><circle cx="269.1" cy="221.7" r="2.6"/><circle cx="286.6" cy="211.2" r="2.6"/><circle cx="189.7" cy="270.4" r="2.6"/><circle cx="195.5" cy="265.7" r="2.6"/><circle cx="187.3" cy="263.4" r="2.6"/><circle cx="215.8" cy="274.3" r="2.6"/><circle cx="229.4" cy="269.2" r="2.6"/><circle cx="215.4" cy="264.0" r="2.6"/><circle cx="231.7" cy="264.5" r="2.6"/><circle cx="260.2" cy="274.3" r="2.6"/><circle cx="260.9" cy="262.2" r="2.6"/><circle cx="266.8" cy="261.5" r="2.6"/><circle cx="272.6" cy="259.9" r="2.6"/><circle cx="279.6" cy="256.4" r="2.6"/><circle cx="294.3" cy="260.6" r="2.6"/><circle cx="315.3" cy="257.5" r="2.6"/><circle cx="321.7" cy="262.9" r="2.6"/><circle cx="326.8" cy="251.7" r="2.6"/><circle cx="339.2" cy="248.2" r="2.6"/><circle cx="255.1" cy="265.7" r="2.6"/><circle cx="323.1" cy="101.5" r="2.6"/><circle cx="333.5" cy="99.2" r="2.6"/><circle cx="340.1" cy="105.4" r="2.6"/><circle cx="349.9" cy="92.7" r="2.6"/><circle cx="351.3" cy="84.9" r="2.6"/><circle cx="365.6" cy="67.6" r="2.6"/><circle cx="375.4" cy="74.3" r="2.6"/><circle cx="379.9" cy="73.3" r="2.6"/><circle cx="392.2" cy="66.1" r="2.6"/><circle cx="402.8" cy="61.6" r="2.6"/><circle cx="412.2" cy="63.1" r="2.6"/><circle cx="406.9" cy="76.3" r="2.6"/><circle cx="401.4" cy="79.4" r="2.6"/><circle cx="391.8" cy="78.0" r="2.6"/><circle cx="393.2" cy="81.1" r="2.6"/><circle cx="397.3" cy="82.1" r="2.6"/><circle cx="365.2" cy="96.4" r="2.6"/><circle cx="366.0" cy="107.0" r="2.6"/><circle cx="366.6" cy="110.7" r="2.6"/><circle cx="356.0" cy="112.1" r="2.6"/><circle cx="342.7" cy="118.2" r="2.6"/><circle cx="349.3" cy="119.9" r="2.6"/><circle cx="355.0" cy="119.3" r="2.6"/><circle cx="361.5" cy="117.8" r="2.6"/><circle cx="374.8" cy="92.7" r="2.6"/><circle cx="379.9" cy="90.7" r="2.6"/><circle cx="375.4" cy="96.4" r="2.6"/><circle cx="385.0" cy="93.7" r="2.6"/><circle cx="390.1" cy="94.7" r="2.6"/><circle cx="380.9" cy="102.9" r="2.6"/><circle cx="386.1" cy="99.9" r="2.6"/><circle cx="391.2" cy="99.9" r="2.6"/><circle cx="385.0" cy="111.1" r="2.6"/><circle cx="368.7" cy="116.2" r="2.6"/><circle cx="373.8" cy="117.2" r="2.6"/><circle cx="371.8" cy="120.3" r="2.6"/><circle cx="380.9" cy="120.3" r="2.6"/><circle cx="342.1" cy="126.4" r="2.6"/><circle cx="337.0" cy="127.4" r="2.6"/><circle cx="355.4" cy="127.4" r="2.6"/><circle cx="377.9" cy="127.0" r="2.6"/><circle cx="383.0" cy="127.4" r="2.6"/><circle cx="292.3" cy="132.3" r="2.6"/><circle cx="313.3" cy="138.9" r="2.6"/><circle cx="327.0" cy="134.9" r="2.6"/><circle cx="312.9" cy="153.8" r="2.6"/><circle cx="315.0" cy="156.8" r="2.6"/><circle cx="322.0" cy="155.0" r="2.6"/><circle cx="325.9" cy="159.4" r="2.6"/><circle cx="328.7" cy="151.2" r="2.6"/><circle cx="334.8" cy="149.4" r="2.6"/><circle cx="334.3" cy="155.9" r="2.6"/><circle cx="334.7" cy="159.4" r="2.6"/><circle cx="341.3" cy="148.9" r="2.6"/><circle cx="345.2" cy="149.4" r="2.6"/><circle cx="337.8" cy="129.1" r="2.6"/><circle cx="342.2" cy="126.7" r="2.6"/><circle cx="339.2" cy="134.9" r="2.6"/><circle cx="345.7" cy="131.4" r="2.6"/><circle cx="348.3" cy="134.9" r="2.6"/><circle cx="351.0" cy="132.3" r="2.6"/><circle cx="356.2" cy="128.4" r="2.6"/><circle cx="311.2" cy="166.4" r="2.6"/><circle cx="312.4" cy="171.7" r="2.6"/><circle cx="293.5" cy="174.0" r="2.6"/><circle cx="298.9" cy="176.9" r="2.6"/><circle cx="322.0" cy="167.3" r="2.6"/><circle cx="326.4" cy="165.6" r="2.6"/><circle cx="330.8" cy="164.7" r="2.6"/><circle cx="477.3" cy="127.4" r="2.6"/><circle cx="500.2" cy="142.3" r="2.6"/><circle cx="449.9" cy="137.5" r="2.6"/><circle cx="446.7" cy="141.5" r="2.6"/><circle cx="447.5" cy="152.4" r="2.6"/><circle cx="453.9" cy="157.6" r="2.6"/><circle cx="426.6" cy="158.4" r="2.6"/><circle cx="421.7" cy="160.4" r="2.6"/><circle cx="426.6" cy="167.3" r="2.6"/><circle cx="410.5" cy="162.4" r="2.6"/><circle cx="410.5" cy="166.5" r="2.6"/><circle cx="402.4" cy="169.3" r="2.6"/><circle cx="393.2" cy="171.7" r="2.6"/><circle cx="384.3" cy="185.4" r="2.6"/><circle cx="387.1" cy="187.8" r="2.6"/><circle cx="400.4" cy="191.8" r="2.6"/><circle cx="393.6" cy="199.5" r="2.6"/><circle cx="382.3" cy="195.8" r="2.6"/><circle cx="395.6" cy="216.0" r="2.6"/><circle cx="370.2" cy="218.8" r="2.6"/><circle cx="371.4" cy="222.8" r="2.6"/><circle cx="354.1" cy="226.8" r="2.6"/><circle cx="359.0" cy="216.8" r="2.6"/><circle cx="532.5" cy="43.5" r="2.6"/><circle cx="549.8" cy="46.4" r="2.6"/><circle cx="555.5" cy="50.7" r="2.6"/><circle cx="561.9" cy="50.7" r="2.6"/><circle cx="565.9" cy="48.4" r="2.6"/><circle cx="577.1" cy="50.7" r="2.6"/><circle cx="533.1" cy="54.4" r="2.6"/><circle cx="536.0" cy="58.2" r="2.6"/><circle cx="539.4" cy="57.9" r="2.6"/><circle cx="544.6" cy="60.2" r="2.6"/><circle cx="548.9" cy="58.7" r="2.6"/><circle cx="551.2" cy="58.2" r="2.6"/><circle cx="556.7" cy="56.7" r="2.6"/><circle cx="581.4" cy="62.2" r="2.6"/><circle cx="586.3" cy="60.2" r="2.6"/><circle cx="587.7" cy="65.1" r="2.6"/><circle cx="607.3" cy="59.3" r="2.6"/><circle cx="592.0" cy="71.4" r="2.6"/><circle cx="604.1" cy="78.9" r="2.6"/><circle cx="648.4" cy="83.5" r="2.6"/><circle cx="600.7" cy="97.8" r="2.6"/><circle cx="577.7" cy="114.8" r="2.6"/><circle cx="572.8" cy="82.3" r="2.6"/><circle cx="562.1" cy="76.6" r="2.6"/><circle cx="556.7" cy="80.6" r="2.6"/><circle cx="557.3" cy="84.0" r="2.6"/><circle cx="566.5" cy="91.8" r="2.6"/><circle cx="561.3" cy="96.4" r="2.6"/><circle cx="546.0" cy="95.5" r="2.6"/><circle cx="526.5" cy="105.9" r="2.6"/><circle cx="511.6" cy="116.2" r="2.6"/><circle cx="505.5" cy="113.6" r="2.6"/><circle cx="508.7" cy="99.8" r="2.6"/><circle cx="536.0" cy="73.1" r="2.6"/><circle cx="551.8" cy="71.7" r="2.6"/><circle cx="555.5" cy="65.9" r="2.6"/><circle cx="540.3" cy="79.4" r="2.6"/><circle cx="536.0" cy="84.0" r="2.6"/><circle cx="528.8" cy="81.7" r="2.6"/><circle cx="525.9" cy="83.8" r="2.6"/><circle cx="521.6" cy="83.2" r="2.6"/><circle cx="517.9" cy="87.5" r="2.6"/><circle cx="514.4" cy="82.3" r="2.6"/><circle cx="511.6" cy="80.6" r="2.6"/></g><circle cx="296.3" cy="158.2" r="2.5" fill="#c8c8c8"/>
<path d="M75.5,248.4 L79.6,248.4 L83.7,248.4 L87.9,248.3 L92.0,248.3 L96.1,248.2 L100.2,248.2 L104.4,248.2 L108.5,248.1 L112.6,248.1 L116.7,248.0 L120.9,247.9 L125.0,247.9 L129.1,247.8 L133.2,247.7 L137.4,247.7 L141.5,247.6 L145.6,247.5 L149.7,247.4 L153.9,247.3 L158.0,247.2 L162.1,247.1 L166.2,246.9 L170.3,246.8 L174.5,246.6 L178.6,246.4 L182.7,246.2 L186.8,246.1 L191.0,245.8 L195.1,245.6 L199.2,245.4 L203.3,245.1 L207.5,244.8 L211.6,244.5 L215.7,244.1 L219.8,243.8 L224.0,243.4 L228.1,243.0 L232.2,242.6 L236.3,242.0 L240.4,241.4 L244.6,240.7 L248.7,239.9 L252.8,238.9 L256.9,237.9 L261.1,236.7 L265.2,235.4 L269.3,234.0 L273.4,232.5 L277.6,230.8 L281.7,229.0 L285.8,227.1 L289.9,224.9 L294.1,222.5 L298.2,220.0 L302.3,217.3 L306.4,214.4 L310.6,211.3 L314.7,208.1 L318.8,204.7 L322.9,201.1 L327.0,197.2 L331.2,193.2 L335.3,189.1 L339.4,184.7 L343.5,180.2 L347.7,175.5 L351.8,170.9 L355.9,166.3 L360.0,161.7 L364.2,157.0 L368.3,152.2 L372.4,147.4 L376.5,142.4 L380.7,137.5 L384.8,132.6 L388.9,127.9 L393.0,123.2 L397.2,118.5 L401.3,114.1 L405.4,110.1 L409.5,106.2 L413.6,102.6 L417.8,99.2 L421.9,96.2 L426.0,93.4 L430.1,90.8 L434.3,88.4 L438.4,86.3 L442.5,84.4 L446.6,82.6 L450.8,81.1 L454.9,79.7 L459.0,78.4 L463.1,77.2 L467.3,76.2 L471.4,75.4 L475.5,74.6 L479.6,73.9 L483.8,73.3 L487.9,72.8 L492.0,72.3 L496.1,71.9 L500.2,71.5 L504.4,71.1 L508.5,70.8 L512.6,70.5 L516.7,70.2 L520.9,69.9 L525.0,69.5 L529.1,69.1 L533.2,68.8 L537.4,68.6 L541.5,68.4 L545.6,68.2 L549.7,68.1 L553.9,68.0 L558.0,67.9 L562.1,67.7 L566.2,67.7 L570.3,67.6 L574.5,67.5 L578.6,67.5 L582.7,67.4 L586.8,67.4 L591.0,67.3 L595.1,67.3 L599.2,67.3 L603.3,67.2 L607.5,67.2 L611.6,67.2 L615.7,67.2 L619.8,67.2 L624.0,67.2 L628.1,67.1 L632.2,67.1 L636.3,67.1 L640.5,67.1 L644.6,67.1 L648.7,67.1" fill="none" stroke="#e60b0b" stroke-width="2.6" stroke-linecap="butt" stroke-linejoin="round"/>
<line x1="256.5" y1="4.8" x2="256.5" y2="297.4" stroke="#222" stroke-width="1.5" stroke-dasharray="5.7,3.5"/>
<line x1="505.7" y1="4.8" x2="505.7" y2="297.4" stroke="#222" stroke-width="1.5" stroke-dasharray="5.7,3.5"/>
<rect x="54.7" y="4.8" width="616.3" height="292.6" fill="none" stroke="#222" stroke-width="1.3"/>
<line x1="54.7" y1="297.4" x2="54.7" y2="302.59999999999997" stroke="#222" stroke-width="1.3"/>
<text x="54.7" y="318.7" text-anchor="middle" class="tk">0.0</text>
<line x1="177.9" y1="297.4" x2="177.9" y2="302.59999999999997" stroke="#222" stroke-width="1.3"/>
<text x="177.9" y="318.7" text-anchor="middle" class="tk">0.2</text>
<line x1="300.1" y1="297.4" x2="300.1" y2="302.59999999999997" stroke="#222" stroke-width="1.3"/>
<text x="300.1" y="318.7" text-anchor="middle" class="tk">0.4</text>
<line x1="423.1" y1="297.4" x2="423.1" y2="302.59999999999997" stroke="#222" stroke-width="1.3"/>
<text x="423.1" y="318.7" text-anchor="middle" class="tk">0.6</text>
<line x1="546.9" y1="297.4" x2="546.9" y2="302.59999999999997" stroke="#222" stroke-width="1.3"/>
<text x="546.9" y="318.7" text-anchor="middle" class="tk">0.8</text>
<line x1="671.3" y1="297.4" x2="671.3" y2="302.59999999999997" stroke="#222" stroke-width="1.3"/>
<text x="671.3" y="318.7" text-anchor="middle" class="tk">1.0</text>
<line x1="49.400000000000006" y1="297.4" x2="54.7" y2="297.4" stroke="#222" stroke-width="1.3"/>
<text x="46" y="302.4" text-anchor="end" class="tk">0.0</text>
<line x1="49.400000000000006" y1="248.6" x2="54.7" y2="248.6" stroke="#222" stroke-width="1.3"/>
<text x="46" y="253.6" text-anchor="end" class="tk">0.2</text>
<line x1="49.400000000000006" y1="199.9" x2="54.7" y2="199.9" stroke="#222" stroke-width="1.3"/>
<text x="46" y="204.9" text-anchor="end" class="tk">0.4</text>
<line x1="49.400000000000006" y1="151.1" x2="54.7" y2="151.1" stroke="#222" stroke-width="1.3"/>
<text x="46" y="156.1" text-anchor="end" class="tk">0.6</text>
<line x1="49.400000000000006" y1="102.3" x2="54.7" y2="102.3" stroke="#222" stroke-width="1.3"/>
<text x="46" y="107.3" text-anchor="end" class="tk">0.8</text>
<line x1="49.400000000000006" y1="53.6" x2="54.7" y2="53.6" stroke="#222" stroke-width="1.3"/>
<text x="46" y="58.6" text-anchor="end" class="tk">1.0</text>
<line x1="49.400000000000006" y1="4.8" x2="54.7" y2="4.8" stroke="#222" stroke-width="1.3"/>
<text x="46" y="9.8" text-anchor="end" class="tk">1.2</text>
<text x="255.8" y="318.7" text-anchor="middle" class="tk">0.345</text>
<text x="505.5" y="318.7" text-anchor="middle" class="tk">0.762</text>
<text x="361" y="340.5" text-anchor="middle" class="ax">Integrated Urban Form Index (IUFI)</text>
<text transform="translate(18.6,151) rotate(-90)" text-anchor="middle" class="ax">Total Factor Energy Efficiency (TFEE)</text>
<text x="261" y="19.4" class="th">Threshold γ<tspan dy="3.4" font-size="10.5">1</tspan></text>
<text x="508.8" y="19.4" class="th">Threshold γ<tspan dy="3.4" font-size="10.5">2</tspan></text>
<text x="152.8" y="39.7" text-anchor="middle" class="rg">Latent</text>
<text x="373" y="39.7" text-anchor="middle" class="rg">Acceleration</text>
<text x="594.8" y="39.7" text-anchor="middle" class="rg">Saturation</text>
</svg>
</body></html>
